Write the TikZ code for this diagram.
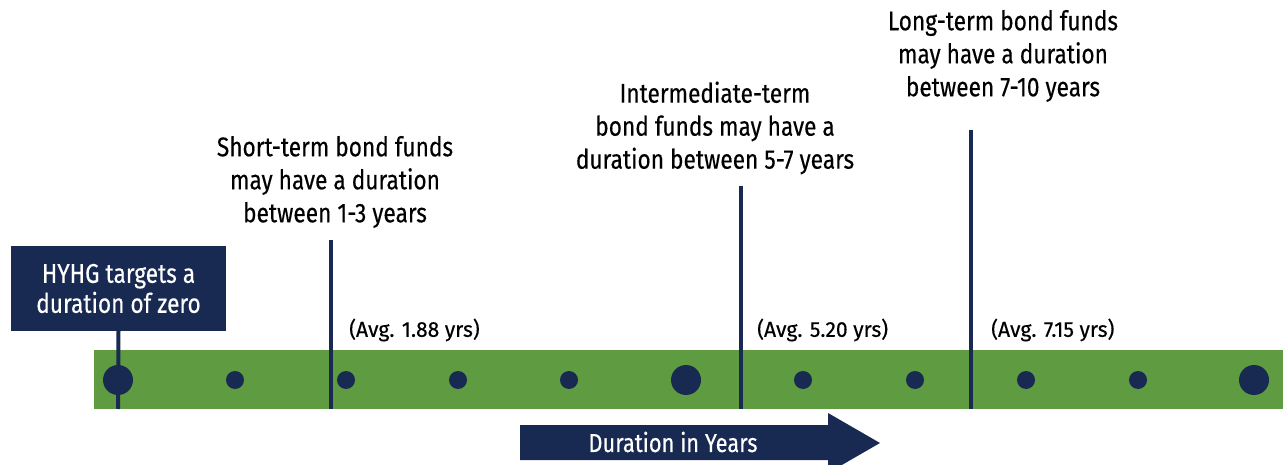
\documentclass[tikz,border=0pt]{standalone}
\usepackage{fontspec}
\setmainfont[FakeStretch=0.84,FakeBold=0.35]{Fira Sans}
\newfontfamily\avgfont[FakeStretch=0.98,FakeBold=0.35]{Fira Sans}
\definecolor{navy}{HTML}{182A52}
\definecolor{barg}{HTML}{5F9B41}
\begin{document}
\begin{tikzpicture}[x=1pt,y=-1pt,
  bigtxt/.style={align=center,font=\fontsize{27}{33}\selectfont,text=black,inner sep=0pt},
  avg/.style={anchor=west,font=\avgfont\fontsize{21.5}{24}\selectfont,text=black,inner sep=0pt},
  bigdot/.style={circle,fill=navy,minimum size=30pt,inner sep=0pt},
  smalldot/.style={circle,fill=navy,minimum size=18pt,inner sep=0pt},
  tick/.style={draw=navy,line width=4pt}]
\useasboundingbox (0,0) rectangle (1283,465);
\clip (0,0) rectangle (1283,465);
% bar
\fill[barg] (94,350) rectangle (1283,409);
% dots
\node[bigdot] (d0) at (118,380) {};
\foreach \x/\n in {235/a,346/b,458/c,569/d,803/e,915/f,1026/g,1138/h}
  \node[smalldot] (s\n) at (\x,380) {};
\node[bigdot] (d5) at (686,380) {};
\node[bigdot] (d10) at (1254,380) {};
% HYHG box
\node[fill=navy,text=white,align=center,minimum width=215pt,minimum height=85pt,inner sep=0pt,
  font=\fontsize{27}{30}\selectfont] (hyhg) at (118.5,288.5) {HYHG targets a\\duration of zero};
\coordinate (b0) at (118,409);
\draw[tick] (hyhg.south) -- (b0);
% ticks
\coordinate (t1) at (331,240); \coordinate (b1) at (331,409);
\coordinate (t2) at (741,186); \coordinate (b2) at (741,409);
\coordinate (t3) at (971,130); \coordinate (b3) at (971,409);
\draw[tick] (t1) -- (b1);
\draw[tick] (t2) -- (b2);
\draw[tick] (t3) -- (b3);
% labels
\node[bigtxt] (short) at (335,182) {Short-term bond funds\\may have a duration\\between 1-3 years};
\node[bigtxt] (inter) at (715,128) {Intermediate-term\\bond funds may have a\\duration between 5-7 years};
\node[bigtxt] (long) at (1003,56) {Long-term bond funds\\may have a duration\\between 7-10 years};
\node[avg] (a1) at (349,330) {(Avg. 1.88 yrs)};
\node[avg] (a2) at (757,330) {(Avg. 5.20 yrs)};
\node[avg] (a3) at (991,330) {(Avg. 7.15 yrs)};
% arrow
\fill[navy] (520,425) -- (828,425) -- (828,413) -- (880,443) -- (828,473) -- (828,460) -- (520,460) -- cycle;
\node[text=white,font=\fontsize{26}{28}\selectfont,inner sep=0pt] (dur) at (673,442) {Duration in Years};
\end{tikzpicture}
\end{document}
